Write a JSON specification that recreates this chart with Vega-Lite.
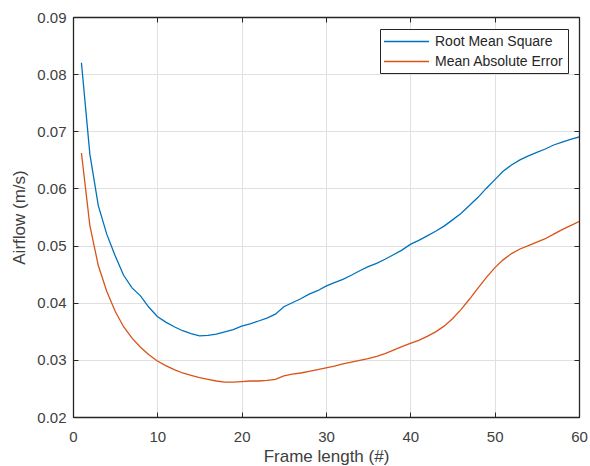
{
  "$schema": "https://vega.github.io/schema/vega-lite/v6.json",
  "width": 506,
  "height": 400,
  "autosize": {"type": "none"},
  "padding": {"left": 73, "top": 17, "right": 11, "bottom": 49},
  "background": "white",
  "config": {
    "view": {"stroke": "#262626", "strokeWidth": 1},
    "font": "Liberation Sans"
  },
  "data": {
    "values": [
      {"n": 1, "Root Mean Square": 0.0820, "Mean Absolute Error": 0.0662},
      {"n": 2, "Root Mean Square": 0.0660, "Mean Absolute Error": 0.0535},
      {"n": 3, "Root Mean Square": 0.0570, "Mean Absolute Error": 0.0465},
      {"n": 4, "Root Mean Square": 0.0520, "Mean Absolute Error": 0.0420},
      {"n": 5, "Root Mean Square": 0.0482, "Mean Absolute Error": 0.0385},
      {"n": 6, "Root Mean Square": 0.0448, "Mean Absolute Error": 0.0358},
      {"n": 7, "Root Mean Square": 0.0426, "Mean Absolute Error": 0.0338},
      {"n": 8, "Root Mean Square": 0.0412, "Mean Absolute Error": 0.0322},
      {"n": 9, "Root Mean Square": 0.0392, "Mean Absolute Error": 0.0309},
      {"n": 10, "Root Mean Square": 0.0376, "Mean Absolute Error": 0.0298},
      {"n": 11, "Root Mean Square": 0.0366, "Mean Absolute Error": 0.0290},
      {"n": 12, "Root Mean Square": 0.0358, "Mean Absolute Error": 0.0283},
      {"n": 13, "Root Mean Square": 0.0351, "Mean Absolute Error": 0.0277},
      {"n": 14, "Root Mean Square": 0.0346, "Mean Absolute Error": 0.0273},
      {"n": 15, "Root Mean Square": 0.0342, "Mean Absolute Error": 0.0269},
      {"n": 16, "Root Mean Square": 0.0343, "Mean Absolute Error": 0.0266},
      {"n": 17, "Root Mean Square": 0.0345, "Mean Absolute Error": 0.0263},
      {"n": 18, "Root Mean Square": 0.0349, "Mean Absolute Error": 0.0261},
      {"n": 19, "Root Mean Square": 0.0353, "Mean Absolute Error": 0.0261},
      {"n": 20, "Root Mean Square": 0.0359, "Mean Absolute Error": 0.0262},
      {"n": 21, "Root Mean Square": 0.0363, "Mean Absolute Error": 0.0263},
      {"n": 22, "Root Mean Square": 0.0368, "Mean Absolute Error": 0.0263},
      {"n": 23, "Root Mean Square": 0.0373, "Mean Absolute Error": 0.0264},
      {"n": 24, "Root Mean Square": 0.0380, "Mean Absolute Error": 0.0266},
      {"n": 25, "Root Mean Square": 0.0393, "Mean Absolute Error": 0.0272},
      {"n": 26, "Root Mean Square": 0.0400, "Mean Absolute Error": 0.0275},
      {"n": 27, "Root Mean Square": 0.0407, "Mean Absolute Error": 0.0277},
      {"n": 28, "Root Mean Square": 0.0415, "Mean Absolute Error": 0.0280},
      {"n": 29, "Root Mean Square": 0.0421, "Mean Absolute Error": 0.0283},
      {"n": 30, "Root Mean Square": 0.0429, "Mean Absolute Error": 0.0286},
      {"n": 31, "Root Mean Square": 0.0435, "Mean Absolute Error": 0.0289},
      {"n": 32, "Root Mean Square": 0.0441, "Mean Absolute Error": 0.0293},
      {"n": 33, "Root Mean Square": 0.0448, "Mean Absolute Error": 0.0296},
      {"n": 34, "Root Mean Square": 0.0456, "Mean Absolute Error": 0.0299},
      {"n": 35, "Root Mean Square": 0.0463, "Mean Absolute Error": 0.0302},
      {"n": 36, "Root Mean Square": 0.0469, "Mean Absolute Error": 0.0306},
      {"n": 37, "Root Mean Square": 0.0476, "Mean Absolute Error": 0.0311},
      {"n": 38, "Root Mean Square": 0.0484, "Mean Absolute Error": 0.0317},
      {"n": 39, "Root Mean Square": 0.0492, "Mean Absolute Error": 0.0323},
      {"n": 40, "Root Mean Square": 0.0502, "Mean Absolute Error": 0.0329},
      {"n": 41, "Root Mean Square": 0.0509, "Mean Absolute Error": 0.0334},
      {"n": 42, "Root Mean Square": 0.0517, "Mean Absolute Error": 0.0341},
      {"n": 43, "Root Mean Square": 0.0525, "Mean Absolute Error": 0.0349},
      {"n": 44, "Root Mean Square": 0.0534, "Mean Absolute Error": 0.0359},
      {"n": 45, "Root Mean Square": 0.0545, "Mean Absolute Error": 0.0372},
      {"n": 46, "Root Mean Square": 0.0556, "Mean Absolute Error": 0.0388},
      {"n": 47, "Root Mean Square": 0.0570, "Mean Absolute Error": 0.0406},
      {"n": 48, "Root Mean Square": 0.0584, "Mean Absolute Error": 0.0425},
      {"n": 49, "Root Mean Square": 0.0600, "Mean Absolute Error": 0.0444},
      {"n": 50, "Root Mean Square": 0.0615, "Mean Absolute Error": 0.0461},
      {"n": 51, "Root Mean Square": 0.0630, "Mean Absolute Error": 0.0475},
      {"n": 52, "Root Mean Square": 0.0641, "Mean Absolute Error": 0.0486},
      {"n": 53, "Root Mean Square": 0.0650, "Mean Absolute Error": 0.0494},
      {"n": 54, "Root Mean Square": 0.0657, "Mean Absolute Error": 0.0500},
      {"n": 55, "Root Mean Square": 0.0663, "Mean Absolute Error": 0.0506},
      {"n": 56, "Root Mean Square": 0.0669, "Mean Absolute Error": 0.0512},
      {"n": 57, "Root Mean Square": 0.0676, "Mean Absolute Error": 0.0520},
      {"n": 58, "Root Mean Square": 0.0681, "Mean Absolute Error": 0.0528},
      {"n": 59, "Root Mean Square": 0.0686, "Mean Absolute Error": 0.0535},
      {"n": 60, "Root Mean Square": 0.0690, "Mean Absolute Error": 0.0542}
    ]
  },
  "transform": [
    {"fold": ["Root Mean Square", "Mean Absolute Error"], "as": ["metric", "value"]}
  ],
  "layer": [
    {
      "mark": {"type": "line", "opacity": 0},
      "encoding": {
        "x": {
          "field": "n",
          "type": "quantitative",
          "scale": {"domain": [0, 60], "nice": false},
          "axis": {
            "orient": "bottom",
            "values": [10, 20, 30, 40, 50],
            "labels": false,
            "ticks": false,
            "domain": false,
            "title": null,
            "grid": true,
            "gridColor": "#e0e0e0",
            "gridWidth": 1,
            "minExtent": 0,
            "maxExtent": 0,
            "zindex": 0
          }
        },
        "y": {
          "field": "value",
          "type": "quantitative",
          "scale": {"domain": [0.02, 0.09], "nice": false, "zero": false},
          "axis": {
            "orient": "left",
            "values": [0.03, 0.04, 0.05, 0.06, 0.07, 0.08],
            "labels": false,
            "ticks": false,
            "domain": false,
            "title": null,
            "grid": true,
            "gridColor": "#e0e0e0",
            "gridWidth": 1,
            "minExtent": 0,
            "maxExtent": 0,
            "zindex": 0
          }
        },
        "detail": {"field": "metric", "type": "nominal"}
      }
    },
    {
      "mark": {"type": "line", "strokeWidth": 1.3, "clip": true},
      "encoding": {
        "x": {
          "field": "n",
          "type": "quantitative",
          "axis": {
            "orient": "bottom",
            "values": [0, 10, 20, 30, 40, 50, 60],
            "title": "Frame length (#)",
            "titleFont": "Liberation Sans",
            "titleFontSize": 17,
            "titleFontWeight": "normal",
            "titleColor": "#404040",
            "titlePadding": 4,
            "labelFont": "Liberation Sans",
            "labelFontSize": 15,
            "labelColor": "#404040",
            "labelPadding": 17,
            "labelFlush": false,
            "domain": true,
            "domainColor": "#262626",
            "domainWidth": 1.3,
            "tickSize": -5,
            "tickWidth": 1,
            "tickColor": "#262626",
            "grid": false,
            "zindex": 1
          }
        },
        "y": {
          "field": "value",
          "type": "quantitative",
          "axis": {
            "orient": "left",
            "values": [0.02, 0.03, 0.04, 0.05, 0.06, 0.07, 0.08, 0.09],
            "format": ".2f",
            "title": "Airflow (m/s)",
            "titleFont": "Liberation Sans",
            "titleFontSize": 17,
            "titleFontWeight": "normal",
            "titleColor": "#404040",
            "titlePadding": 8,
            "labelFont": "Liberation Sans",
            "labelFontSize": 15,
            "labelColor": "#404040",
            "labelPadding": 12,
            "labelFlush": false,
            "domain": true,
            "domainColor": "#262626",
            "domainWidth": 1.3,
            "tickSize": -5,
            "tickWidth": 1,
            "tickColor": "#262626",
            "grid": false,
            "zindex": 1
          }
        },
        "color": {
          "field": "metric",
          "type": "nominal",
          "scale": {
            "domain": ["Root Mean Square", "Mean Absolute Error"],
            "range": ["#0072BD", "#D95319"]
          },
          "legend": {
            "orient": "none",
            "legendX": 307,
            "legendY": 12,
            "title": null,
            "symbolType": "M-1.133,0H4.867",
            "symbolSize": 225,
            "symbolStrokeWidth": 1.3,
            "labelFont": "Liberation Sans",
            "labelFontSize": 14,
            "labelColor": "#262626",
            "labelOffset": 34,
            "padding": 4,
            "rowPadding": 4,
            "fillColor": "white",
            "strokeColor": "#262626",
            "direction": "vertical"
          }
        }
      }
    },
    {
      "mark": {"type": "line", "opacity": 0},
      "encoding": {
        "x": {
          "field": "n",
          "type": "quantitative",
          "axis": {
            "orient": "top",
            "values": [0, 10, 20, 30, 40, 50, 60],
            "labels": false,
            "title": null,
            "domain": true,
            "domainColor": "#262626",
            "domainWidth": 1.3,
            "grid": false,
            "tickSize": -5,
            "tickWidth": 1,
            "tickColor": "#262626",
            "zindex": 1
          }
        },
        "y": {
          "field": "value",
          "type": "quantitative",
          "axis": {
            "orient": "right",
            "values": [0.02, 0.03, 0.04, 0.05, 0.06, 0.07, 0.08, 0.09],
            "labels": false,
            "title": null,
            "domain": true,
            "domainColor": "#262626",
            "domainWidth": 1.3,
            "grid": false,
            "tickSize": -5,
            "tickWidth": 1,
            "tickColor": "#262626",
            "zindex": 1
          }
        },
        "detail": {"field": "metric", "type": "nominal"}
      }
    }
  ],
  "resolve": {"axis": {"x": "independent", "y": "independent"}}
}
